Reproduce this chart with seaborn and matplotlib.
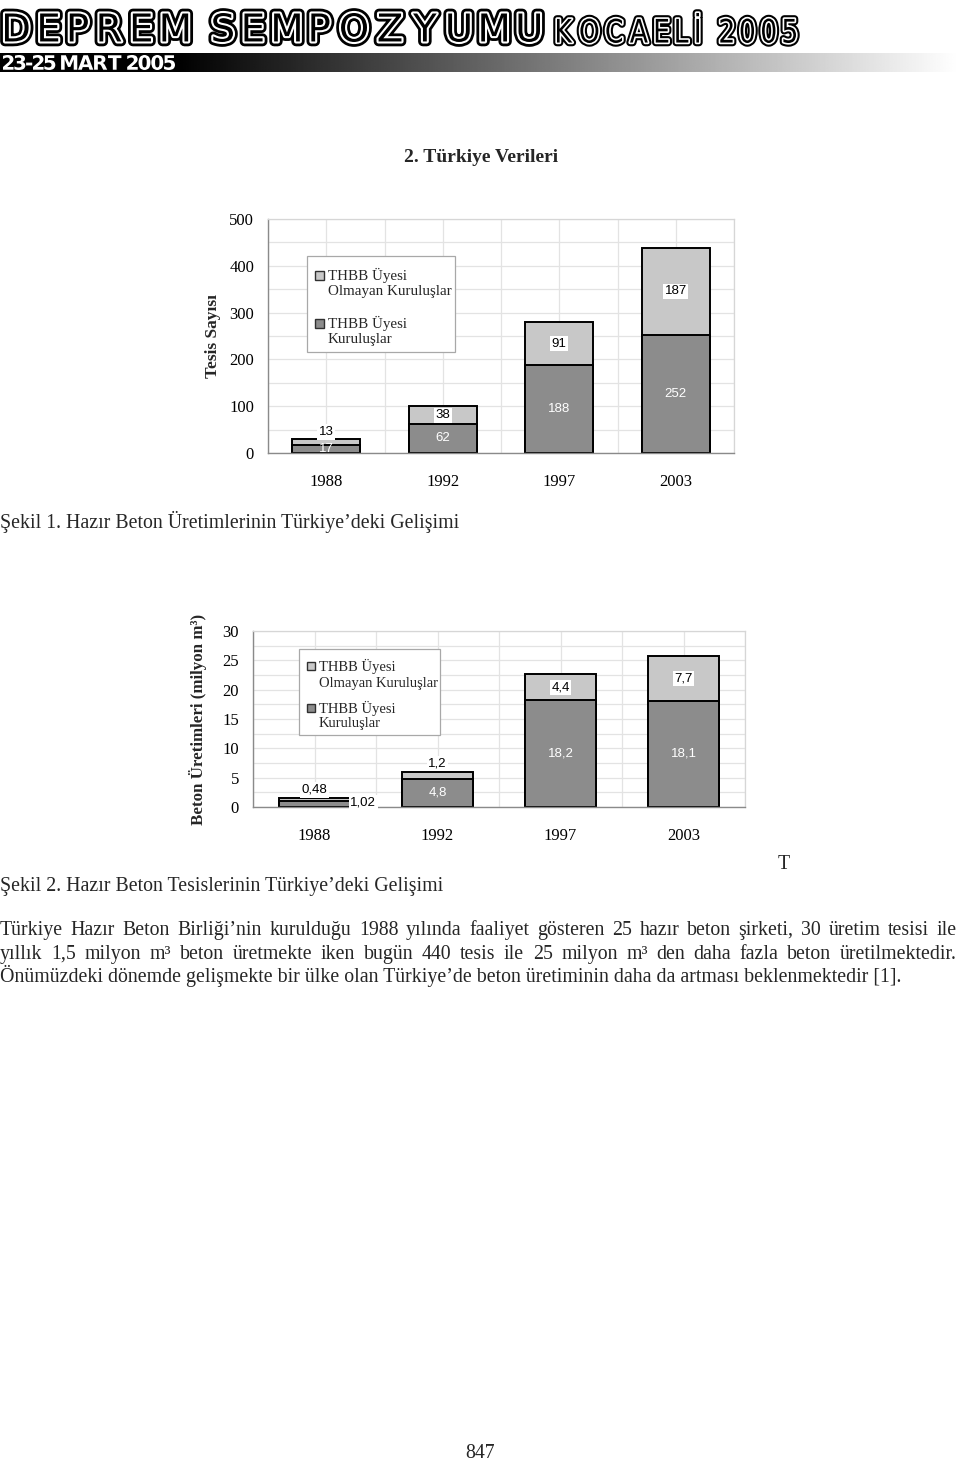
import numpy as np
import pandas as pd
import matplotlib
matplotlib.use("Agg")
import matplotlib.pyplot as plt
import seaborn as sns
from matplotlib.patches import Rectangle, PathPatch
from matplotlib.textpath import TextPath
from matplotlib.path import Path
from matplotlib.font_manager import FontProperties
from matplotlib.transforms import Affine2D
from matplotlib.ticker import MultipleLocator
import matplotlib.patheffects as pe

# ---------------- data ----------------
years = ["1988", "1992", "1997", "2003"]
tesis_uye = [17, 62, 188, 252]
tesis_diger = [13, 38, 91, 187]
tesis_uye_lbl = ["17", "62", "188", "252"]
tesis_diger_lbl = ["13", "38", "91", "187"]
uretim_uye = [1.02, 4.8, 18.2, 18.1]
uretim_diger = [0.48, 1.2, 4.4, 7.7]
uretim_uye_lbl = ["1,02", "4,8", "18,2", "18,1"]
uretim_diger_lbl = ["0,48", "1,2", "4,4", "7,7"]
legend_labels = [["THBB Üyesi", "Olmayan Kuruluşlar"], ["THBB Üyesi", "Kuruluşlar"]]

title = "2. Türkiye Verileri"
caption1 = "Şekil 1. Hazır Beton Üretimlerinin Türkiye’deki Gelişimi"
caption2 = "Şekil 2. Hazır Beton Tesislerinin Türkiye’deki Gelişimi"
para = [
    "Türkiye Hazır Beton Birliği’nin kurulduğu 1988 yılında faaliyet gösteren 25 hazır beton şirketi, 30 üretim tesisi ile",
    "yıllık 1,5 milyon m³ beton üretmekte iken bugün 440 tesis ile 25 milyon m³ den daha fazla beton üretilmektedir.",
    "Önümüzdeki dönemde gelişmekte bir ülke olan Türkiye’de beton üretiminin daha da artması beklenmektedir [1].",
]

LIGHT = "#c8c8c8"
DARK = "#8c8c8c"
GRID = "#e3e3e3"
AXC = "#8a8a8a"

sns.set_theme(style="white")
plt.rcParams["font.family"] = ["Liberation Serif", "DejaVu Serif"]

W, H = 960, 1463
fig = plt.figure(figsize=(W / 100, H / 100), dpi=100)
fig.patch.set_facecolor("white")
bg = fig.add_axes([0, 0, 1, 1])
bg.set_xlim(0, W)
bg.set_ylim(H, 0)
bg.axis("off")


def px_axes(l, t, r, b):
    return fig.add_axes([l / W, 1 - b / H, (r - l) / W, (b - t) / H])


# ---------------- header ----------------
def tracked_path(s, fp, track, space):
    parts = []
    x = 0.0
    for ch in s:
        if ch == " ":
            x += space
            continue
        tp = TextPath((0, 0), ch, size=100, prop=fp)
        bb = tp.get_extents()
        parts.append(Affine2D().translate(x - bb.x0, 0).transform_path(tp))
        x += bb.width + track
    return Path.make_compound_path(*parts)


def fit_text(s, x0, y0, x1, y1, fc, effects=None, weight="normal",
             family="DejaVu Sans", track=0.0, space=35.0):
    fp = FontProperties(family=family, weight=weight)
    tp = tracked_path(s, fp, track, space)
    bb = tp.get_extents()
    sx = (x1 - x0) / bb.width
    sy = (y1 - y0) / bb.height
    tr = Affine2D().translate(-bb.x0, -bb.y0).scale(sx, -sy).translate(x0, y1)
    path = tr.transform_path(tp)
    patch = PathPatch(path, fc=fc, ec="none", lw=0, transform=bg.transData, zorder=3)
    if effects:
        patch.set_path_effects(effects)
    bg.add_patch(patch)


# inline (triple-line) lettering: black core, white gap, black outer ring
fit_text("DEPREM SEMPOZYUMU", 5, 13, 540, 42, "black",
         [pe.Stroke(linewidth=7.0, foreground="black", joinstyle="round", capstyle="round"),
          pe.Stroke(linewidth=3.0, foreground="white", joinstyle="round", capstyle="round"),
          pe.Normal()], track=30, space=35)
fit_text("KOCAELİ 2005", 557, 13, 796, 43, "black",
         [pe.Stroke(linewidth=5.4, foreground="black", joinstyle="round", capstyle="round"),
          pe.Stroke(linewidth=2.4, foreground="white", joinstyle="round", capstyle="round"),
          pe.Normal()], track=30, space=50)

xs = np.linspace(0, 958, 600)
ramp = np.clip((xs - 175) / (958 - 175), 0, 1)[None, :]
bg.imshow(ramp, cmap="gray", vmin=0, vmax=1, extent=[0, 958, 72, 53],
          aspect="auto", zorder=1, interpolation="bilinear")
fit_text("23-25 MART 2005", 3, 55, 175, 70, "white", weight="bold", track=4, space=25)
bg.set_xlim(0, W)
bg.set_ylim(H, 0)

# ---------------- page text ----------------
renderer = fig.canvas.get_renderer()
probe = bg.text(0, 0, para[2], fontsize=12)
w12 = probe.get_window_extent(renderer).width
probe.remove()
body_fs = 12 * 898 / w12

bg.text(481, 162, title, fontsize=14, fontweight="bold", ha="center", va="baseline")
bg.text(0, 528, caption1, fontsize=body_fs, va="baseline")
bg.text(784, 869, "T", fontsize=body_fs, ha="center", va="baseline")
bg.text(0, 891, caption2, fontsize=body_fs, va="baseline")
bg.text(480, 1458, "847", fontsize=body_fs, ha="center", va="baseline")


# ---------------- charts ----------------
def stacked_chart(ax, member, other, m_lbl, o_lbl, ymax, major, minor, ylabel, ylab_fs,
                  ylab_x, legend_box, legend_fs, lbl_shift, dark_outside=()):
    df = pd.DataFrame({"yil": years, "uye": member, "diger": other})
    df["toplam"] = df["uye"] + df["diger"]
    sns.barplot(data=df, x="yil", y="toplam", color=LIGHT, saturation=1,
                edgecolor="black", linewidth=1.4, width=0.58, errorbar=None, ax=ax)
    sns.barplot(data=df, x="yil", y="uye", color=DARK, saturation=1,
                edgecolor="black", linewidth=1.4, width=0.58, errorbar=None, ax=ax)
    ax.set_xlim(-0.5, 3.5)
    ax.set_ylim(0, ymax)
    ax.set_yticks(np.arange(0, ymax + 0.01, major))
    ax.yaxis.set_minor_locator(MultipleLocator(minor))
    ax.set_xticks(range(len(years)))
    ax.set_xticks(np.arange(-0.5, 3.6, 1.0), minor=True)
    ax.set_axisbelow(True)
    ax.grid(True, which="both", axis="both", color=GRID, linewidth=0.9)
    ax.tick_params(axis="x", which="major", length=0, pad=15, labelsize=12, colors="black")
    ax.tick_params(axis="x", which="minor", length=5, width=0.9, color=AXC, direction="out")
    ax.tick_params(axis="y", which="major", length=5, width=0.9, color=AXC, direction="out",
                   pad=5, labelsize=12, labelcolor="black")
    ax.tick_params(axis="y", which="minor", length=0)
    for s in ["left", "bottom"]:
        ax.spines[s].set_color(AXC)
        ax.spines[s].set_linewidth(1.0)
    for s in ["top", "right"]:
        ax.spines[s].set_color("#d6d6d6")
        ax.spines[s].set_linewidth(0.9)
    ax.set_xlabel("")
    ax.set_ylabel(ylabel, fontsize=ylab_fs, fontweight="bold")
    ax.yaxis.label.set_va("center")
    ax.yaxis.set_label_coords(ylab_x, 0.5)

    lab_font = dict(family=["Liberation Sans", "DejaVu Sans"], fontsize=9.5)
    wbox = dict(boxstyle="square,pad=0.12", fc="white", ec="none")
    for i, (m, o) in enumerate(zip(member, other)):
        tot = m + o
        if o < 0.05 * ymax:
            ax.text(i, tot + lbl_shift, o_lbl[i], ha="center", va="center",
                    color="black", bbox=wbox, **lab_font)
        else:
            ax.text(i, m + o / 2, o_lbl[i], ha="center", va="center",
                    color="black", bbox=wbox, **lab_font)
        if i in dark_outside:
            ax.text(i + 0.29, m * 0.7, m_lbl[i], ha="left", va="center",
                    color="black", bbox=wbox, **lab_font)
        else:
            ax.text(i, m / 2, m_lbl[i], ha="center", va="center",
                    color="white", **lab_font)

    # legend (pixel coordinates on page)
    (lx0, ly0, lx1, ly1), sq, rows = legend_box
    ax.add_patch(Rectangle((lx0, ly0), lx1 - lx0, ly1 - ly0, transform=bg.transData,
                           fc="white", ec="#a8a8a8", lw=0.9, clip_on=False, zorder=5))
    for k, (colr, lines) in enumerate(zip([LIGHT, DARK], legend_labels)):
        ry1, ry2 = rows[k]
        ax.add_patch(Rectangle((sq[0], ry1 - 4), sq[1], sq[1], transform=bg.transData,
                               fc=colr, ec="#303030", lw=1.0, clip_on=False, zorder=6))
        ax.text(sq[0] + sq[1] + 4, ry1, lines[0], transform=bg.transData, va="center",
                ha="left", fontsize=legend_fs, zorder=7, clip_on=False)
        ax.text(sq[0] + sq[1] + 4, ry2, lines[1], transform=bg.transData, va="center",
                ha="left", fontsize=legend_fs, zorder=7, clip_on=False)


ax1 = px_axes(268, 219, 734, 453)
ax2 = px_axes(253, 631, 745, 807)

stacked_chart(ax1, tesis_uye, tesis_diger, tesis_uye_lbl, tesis_diger_lbl,
              500, 100, 50, "Tesis Sayısı", 12.5, (213 - 268) / 466,
              ((307, 256, 455, 352), (315, 9), [(275, 291), (323, 339)]), 10.8, 15)
stacked_chart(ax2, uretim_uye, uretim_diger, uretim_uye_lbl, uretim_diger_lbl,
              30, 5, 2.5, "Beton Üretimleri (milyon m³)", 12.2, (198 - 253) / 492,
              ((299, 649, 440, 735), (307, 8), [(666, 683), (708, 724)]), 10.5, 1.4,
              dark_outside=(0,))

# ---------------- justified paragraph ----------------
baselines = [935, 959, 982]
for li, (line, yb) in enumerate(zip(para, baselines)):
    if li == len(para) - 1:
        bg.text(0, yb, line, fontsize=body_fs, va="baseline")
        continue
    words = line.split(" ")
    texts = [bg.text(0, yb, w, fontsize=body_fs, va="baseline") for w in words]
    widths = [t.get_window_extent(renderer).width for t in texts]
    gap = (957 - sum(widths)) / (len(words) - 1)
    x = 0
    for t, w in zip(texts, widths):
        t.set_x(x)
        x += w + gap

fig.savefig("out.png", dpi=100, facecolor="white")
